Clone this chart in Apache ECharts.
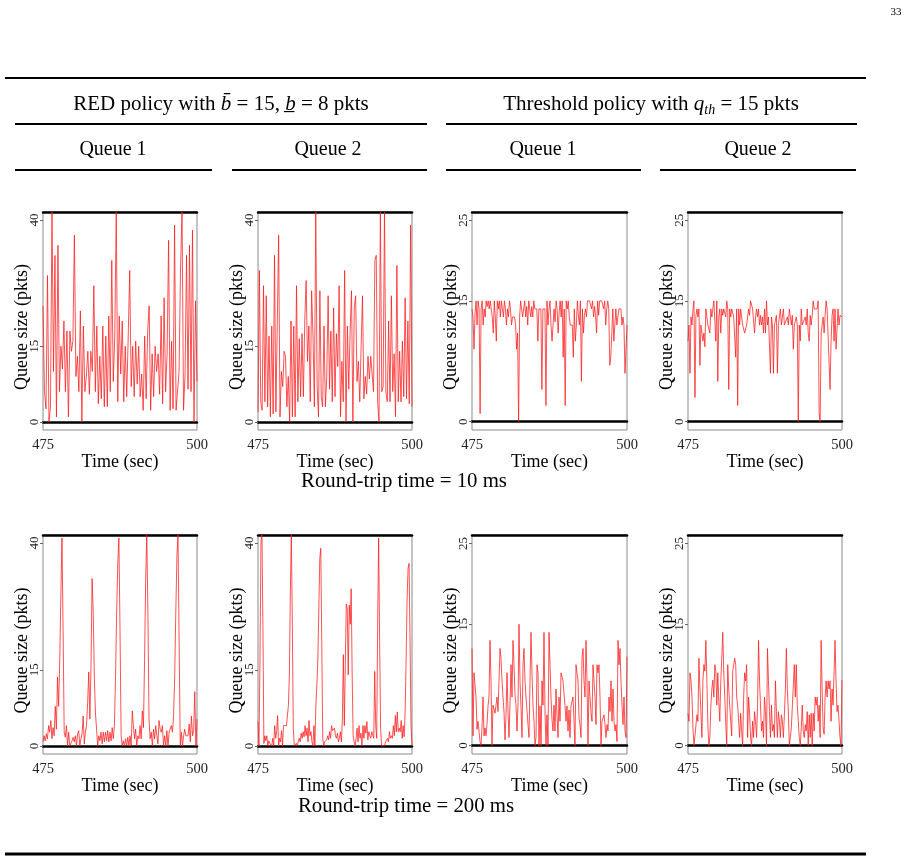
<!DOCTYPE html>
<html>
<head>
<meta charset="utf-8">
<script src="https://cdn.jsdelivr.net/npm/echarts@6/dist/echarts.min.js"></script>
<style>
html,body{margin:0;padding:0;background:#fff;}
#chart{width:910px;height:862px;}
</style>
</head>
<body>
<div id="chart"></div>
<script>
// ---------- data ----------
const timeStart = 475;
const timeEnd = 500;
const xTickValues = [475, 500];
const redTicks = [0, 15, 40];
const thrTicks = [0, 15, 25];
const headerRed = '{n|RED policy with }{i|b\u0304}{n| = 15, }{i|b\u0332}{n| = 8 pkts}';
const headerThr = '{n|Threshold policy with }{i|q}{s|th}{n| = 15 pkts}';
const queueLabels = ['Queue 1', 'Queue 2', 'Queue 1', 'Queue 2'];
const rttLabels = ['Round-trip time = 10 ms', 'Round-trip time = 200 ms'];
const xName = 'Time (sec)';
const yName = 'Queue size (pkts)';

// RED policy, RTT 10 ms
const red10q1 = [23,6,2.6,29,0,3,42,10,33,1,35,6,15,10.5,20,6,18,1,18,14,16,37,9,13,6,22,0,19,6,9,14,5.5,14,10,27,6,19,3.6,13,4.6,19,3,17,3,21,6,32,8,17,42,4,21,9.5,20,4,15,5,17,30,7,15,5,16,7.5,15,5,9.5,2.3,17,4.6,18,23,2.3,13.5,5,15,10,13.5,5.5,21,3.6,24.6,6,13.5,36,2.3,16,2.6,39,2.3,2,10,30.5,42,2.3,9.5,33,6.5,35,6,38,0,24,8];
const red10q2 = [2,30,4,2.3,27,4,25,3,17,1,19,1.6,33,2,19,37,1,10,7,14,13,3,9,0,20,1,19,1,27,4,16.5,5,17.5,5,20,28,12,19,4,26,17,3,42,7,1,26,5,3,19,3,9,25,6.5,18,4,22.6,5,17.5,11,27,1,12,4,30,0,19,6.5,18,26,0,22.6,25,8,12,4,15,25,4.6,9,5.5,13,8.5,13,13,6,32,33,4,0,42,6,7,42,6,4,20,4,25,6,13.5,1,31,4,14,4,16,5,24.6,4.6,20,3.6,39,3];
// Threshold policy, RTT 10 ms
const thr10q1 = [14,13,9,13.5,15,12,15,14,1,14,15,12,14,13,15,14.3,15,14,15,14,13,11,15,13,10,15,14,15,13,15,14,13,15,14,12,14,13,15,14,12,13,13,13,12,9,11,0,13,15,15,13,13.2,15,13,14.3,12,15,14,13,14.3,13,15,14,14,14,10,14,14,14,4,14,14,14,2,15,12,14,15,12,10,12,14,12.4,15,14,11,13.5,15,13,15,8,14,2,15,14,15,13,12,12,12,8,14,10,12,15,13.2,12,15,5,14,11,13.2,14,13,15,15,15,15,14,15,13,14.3,13.2,11,15,13.2,15,15,15,15,14,15,12,14,15,14,7,8,8,14,10,10,14,12,12,14,14,14,12,13,12,6,9,12];
const thr10q2 = [10,12,6,13,12,14,15,3,13.2,14,13,14,7,12,11,10,11,9.3,14,14,12,12,11,14,13,14,15,15,10,15,5,13,14,11,14,13.2,14,14,13,15,14,4,14,13,14,14,13,13,8,14,2,14,12,14,13,12,12,11,11,12,13,14,13.2,15,15,14,14,11,13,14,13,14,12,13.2,12,13,11,14,11,15,12,13,13,6,13,12,6,12,12,13.2,6,12,12,14,12,13,14,12,12,12,13,12,14,13,12,13.2,9,12,12,13,12,0,12,10,14,12,12,12,13,12,14,11,10,13.2,12,13.2,15,14,14,14,14,15,1,0,11,12,13,11,13.2,15,14,14,14,4,10,13.2,14,10,14,9,9,14,12,13.2,13,13];
// RED policy, RTT 200 ms
const red200q1 = [0.8,2,1,2.4,1.4,4,2.7,5,1.4,3.6,2,7.8,3.3,13.6,7.8,16.8,29.6,41,23,2.7,1.7,4,0,2.7,0,0,1,1.7,0.8,2,0,2.4,3,0,1.4,2.4,5.9,0.4,2.7,4,8.5,14.6,5.3,15.5,33,26.4,13.6,6.5,3.3,0,2,1,2.7,0.4,2.7,0.8,2.7,1,3,0.8,2.7,1,3.6,1.4,4,13.6,26.4,36,41,23,2,0,1,0,1.4,0,1.7,0,2,0,6.9,4,1.4,3.3,0,2,1.4,4,1.4,6.9,3.6,16.8,32.8,42,26.4,5.3,1.4,2.7,0,3.3,1.4,4,2,0.4,5,3.3,2.7,4,0,2,0,3,0,2.7,2.7,4,2.7,5.9,13.6,26.4,37.3,42,20,0,2.7,0,2,3.3,2,2,2,4.3,0.8,5.9,2,3,10.7,0,5.3];
const red200q2 = [4.8,0,17,40,42,24,0.5,2,1,2,0,1,0.5,0.8,0,1.5,0,4,1.5,2.8,6,0,1.5,0.8,3,0,4,3.8,4,4,4,8,14,30.5,42,24,3.5,0,0,0.5,0,0.8,1.5,0.8,2.5,1.5,2.8,1.8,4,2,3.5,0.8,5,2,2.8,0.8,0,4,0,8,12,17,27,37,39,20.6,1.5,0,0.8,0.8,1.2,2,1.2,2.8,1.5,4,3,2.8,3.5,2,1.5,2.5,0.8,1.5,2.8,0.8,5,18,4,16,28,27,14,27.8,24,31,14,2,0.8,0,1.5,3.5,0.8,4,1.5,2.5,0,4,1.5,4,2.5,4.8,1.2,2.8,2,1.5,2.8,3,1.5,14.7,4,1.5,24,41,20.6,3.5,0,0,0,0,0.8,0.8,1.5,0.8,2.8,1.5,2,1.5,4,2,6,2.8,6.7,2.8,3.5,2.8,5,1.5,4,1.8,6.7,17,29,35,36,20.6,4,0];
// Threshold policy, RTT 200 ms
const thr200q1 = [12,1.2,9,9,6,2,3,1.8,0.5,0,2.2,6,1.2,2.2,1.2,2.6,4.9,6,13,8,0,5,4.9,4,4,6,4.2,8,12,10.8,8,6,4.2,0.7,3.8,9,4.2,1,5,10,6,13,10,6.3,5,1.8,5,15,8,4.7,1,10,12,8,6,6,2.6,1,8,14,9,4.9,3,0,1,10,9,0,4.9,0,8,5,14,4.2,0,3.8,0,14,10,6,3.2,1.8,5,1.8,7,3.8,1,6,3,9,9,8,8,4.9,3,4.9,1.8,4.4,1,4.9,5,6,3,0,10,10,8,3.4,2.6,1,10.8,12,8,6,13,8,0,8,6,4,3,10,8,6,2.6,10,9,10,6,0,3,2.8,3.8,2.6,1,2.6,1.8,6,4.2,8,3,7,3,1.8,2.6,0.5,13,10,12,8,4.9,2.6,6,1.8,1,11];
const thr200q2 = [4,3,9,8.1,6,2.2,0,1.2,1,3.8,3,10.8,7,4.2,1,8,10,9.2,13,8,2.6,0,1,4.9,7,8.1,6,10,9.2,5,9,5.5,3,8,10.8,14,9,6,2.8,0,10,7,4.9,5,1.2,9.2,10,10.8,10,6,4.9,3,1,4,1.8,0,6,9,8,10,1,6,4,1,0,3,1,4.2,3,1,5,13,8,4.9,1.8,3,1,6,4.2,0,12,8,4.2,1,5,1.8,2.6,1,8,4.2,1,4.2,3,1,3.8,3,1,3.8,7,12,7,4.2,0,1,2.2,2.2,2.2,10,6,10,5,3,1,0,2.2,5,1.8,1,2.6,1.8,4.2,0,3.8,1,4,0,4,1.8,6,5,6,3,5,1,13,7,2.2,1.4,6,8,6,8,7,8,3,7,5,5,13,8,4.2,5,3,1,0,8.1];

// ---------- layout ----------
const FONT = '"Liberation Serif", "Times New Roman", serif';
const colLeft = [43, 258, 472, 688];
const colWidth = [154, 154, 155, 154];
const rowTop = [212, 535];
const rowHeight = [218, 219];

const panels = [
  {data: red10q1, ticks: redTicks, range: [-1.6, 41.6], row: 0, col: 0},
  {data: red10q2, ticks: redTicks, range: [-1.6, 41.6], row: 0, col: 1},
  {data: thr10q1, ticks: thrTicks, range: [-1.04, 26.04], row: 0, col: 2},
  {data: thr10q2, ticks: thrTicks, range: [-1.04, 26.04], row: 0, col: 3},
  {data: red200q1, ticks: redTicks, range: [-1.6, 41.6], row: 1, col: 0},
  {data: red200q2, ticks: redTicks, range: [-1.6, 41.6], row: 1, col: 1},
  {data: thr200q1, ticks: thrTicks, range: [-1.04, 26.04], row: 1, col: 2},
  {data: thr200q2, ticks: thrTicks, range: [-1.04, 26.04], row: 1, col: 3}
];

const grid = [], xAxis = [], yAxis = [], series = [];
panels.forEach((p, k) => {
  grid.push({
    left: colLeft[p.col], top: rowTop[p.row], width: colWidth[p.col], height: rowHeight[p.row],
    show: true, borderColor: '#8a8a8a', borderWidth: 1, backgroundColor: 'transparent'
  });
  xAxis.push({
    type: 'value', gridIndex: k, min: timeStart, max: timeEnd, interval: 25,
    axisLine: {show: true, lineStyle: {color: '#000', width: 2.5}},
    axisTick: {show: false}, splitLine: {show: false},
    axisLabel: {customValues: xTickValues, fontSize: 14.5, margin: 8, color: '#222', fontFamily: FONT},
    name: xName, nameLocation: 'middle', nameGap: 23, nameMoveOverlap: false,
    nameTextStyle: {fontSize: 18, color: '#000', fontFamily: FONT}
  });
  xAxis.push({
    type: 'value', gridIndex: k, position: 'top', min: timeStart, max: timeEnd, interval: 25,
    axisLine: {show: true, lineStyle: {color: '#000', width: 2.5}},
    axisTick: {show: false}, axisLabel: {show: false}, splitLine: {show: false}
  });
  yAxis.push({
    type: 'value', gridIndex: k, min: p.range[0], max: p.range[1],
    axisLine: {show: false},
    axisTick: {show: true, customValues: p.ticks, length: 3, lineStyle: {color: '#666'}},
    axisLabel: {customValues: p.ticks, rotate: 90, margin: 2, fontSize: 13, color: '#222', fontFamily: FONT},
    splitLine: {show: false},
    name: yName, nameLocation: 'middle', nameGap: 12, nameMoveOverlap: false,
    nameTextStyle: {fontSize: 18, color: '#000', fontFamily: FONT, padding: [0, 12, 0, 0]}
  });
  const n = p.data.length;
  series.push({
    type: 'line', xAxisIndex: 2 * k, yAxisIndex: k, showSymbol: false, animation: false,
    clip: true, silent: true,
    lineStyle: {color: '#ff1a1a', width: 0.75},
    data: p.data.map((v, i) => [timeStart + i * (timeEnd - timeStart) / (n - 1), v])
  });
});

function hline(x1, x2, y, w) {
  return {type: 'line', shape: {x1: x1, y1: y, x2: x2, y2: y}, style: {stroke: '#000', lineWidth: w}, silent: true};
}
function txt(x, y, text, size, extra) {
  return {type: 'text', x: x, y: y, silent: true,
    style: Object.assign({text: text, align: 'center', verticalAlign: 'middle', fontSize: size, fontFamily: FONT, fill: '#000'}, extra || {})};
}
const richStyle = {
  n: {fontSize: 21, fontFamily: FONT, lineHeight: 26},
  i: {fontSize: 21, fontFamily: FONT, fontStyle: 'italic', lineHeight: 26},
  s: {fontSize: 14, fontFamily: FONT, fontStyle: 'italic', lineHeight: 26, verticalAlign: 'bottom', padding: [10, 0, 0, 0]}
};
const graphic = [
  txt(896, 12, '33', 11),
  hline(5, 866, 78, 2),
  txt(221, 104, headerRed, 21, {rich: richStyle}),
  txt(651, 104, headerThr, 21, {rich: richStyle}),
  hline(15, 427, 124, 2),
  hline(446, 857, 124, 2),
  txt(113, 150, queueLabels[0], 20),
  txt(328, 150, queueLabels[1], 20),
  txt(543, 150, queueLabels[2], 20),
  txt(758, 150, queueLabels[3], 20),
  hline(15, 212, 170, 2),
  hline(232, 427, 170, 2),
  hline(446, 641, 170, 2),
  hline(660, 856, 170, 2),
  txt(404, 482, rttLabels[0], 20.8),
  txt(406, 807, rttLabels[1], 20.8),
  hline(5, 866, 854, 3)
];

const chart = echarts.init(document.getElementById('chart'), null, {renderer: 'canvas'});
chart.setOption({
  backgroundColor: '#fff',
  animation: false,
  grid: grid, xAxis: xAxis, yAxis: yAxis, series: series, graphic: graphic
});
</script>
</body>
</html>
